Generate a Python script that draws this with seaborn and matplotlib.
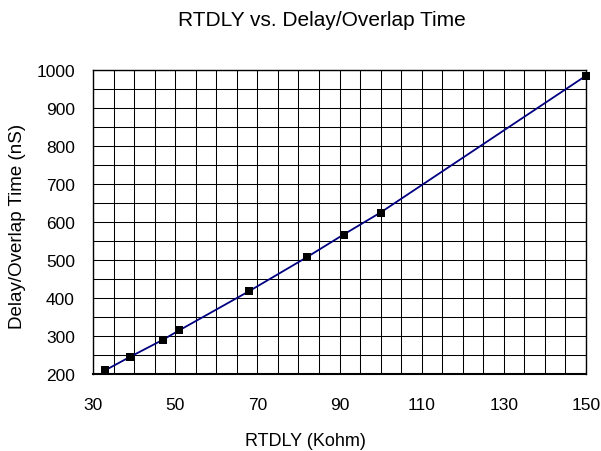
import matplotlib
matplotlib.use("Agg")
import matplotlib.pyplot as plt
from matplotlib.ticker import MultipleLocator
import seaborn as sns
import pandas as pd

# Datos
rtdly_kohm = [33, 39, 47, 51, 68, 82, 91, 100, 150]
delay_ns = [210, 245, 290, 315, 418, 507, 567, 625, 985]
x_ticks = [30, 50, 70, 90, 110, 130, 150]

df = pd.DataFrame({"rtdly": rtdly_kohm, "delay": delay_ns})

sns.set_theme(style="white")
plt.rcParams['font.family'] = ['Liberation Sans', 'DejaVu Sans']

W, H = 601, 452
fig = plt.figure(figsize=(W / 100, H / 100), dpi=100)
# área de trazado en píxeles: x 93..586, y 71..375
ax = fig.add_axes([93 / W, 1 - 375 / H, (586 - 93) / W, (375 - 71) / H])

sns.lineplot(data=df, x="rtdly", y="delay", color="#000080", linewidth=1.3, ax=ax, zorder=3)
sns.scatterplot(data=df, x="rtdly", y="delay", marker="s", color="black", s=30,
                edgecolor="black", linewidth=0, ax=ax, zorder=4, clip_on=False)

ax.set_xlim(30, 150)
ax.set_ylim(200, 1000)
ax.set_xticks(x_ticks)
ax.xaxis.set_minor_locator(MultipleLocator(5))
ax.yaxis.set_major_locator(MultipleLocator(100))
ax.yaxis.set_minor_locator(MultipleLocator(50))

ax.grid(which="both", color="black", linewidth=0.75)
ax.set_axisbelow(True)
for sp in ax.spines.values():
    sp.set_color("black")
    sp.set_linewidth(1.0)
ax.spines["bottom"].set_linewidth(1.5)

ax.tick_params(axis="y", which="major", labelsize=12.5, colors="black",
               length=3.6, width=0.75, direction="out", pad=9.4)
ax.tick_params(axis="y", which="minor", length=0)
ax.tick_params(axis="x", which="both", labelsize=12.5, colors="black",
               length=1.5, width=0.75, direction="out", pad=15)
ax.set_xlabel("")
ax.set_ylabel("")

fig.text(321.5 / W, 1 - 20 / H, "RTDLY vs. Delay/Overlap Time", fontsize=15,
         ha="center", va="center", color="black")
fig.text(305 / W, 1 - 442 / H, "RTDLY (Kohm)", fontsize=13,
         ha="center", va="center", color="black")
fig.text(18 / W, 1 - 226.5 / H, "Delay/Overlap Time (nS)", fontsize=13.5,
         ha="center", va="center", rotation=90, color="black")

fig.savefig("out.png", dpi=100)
